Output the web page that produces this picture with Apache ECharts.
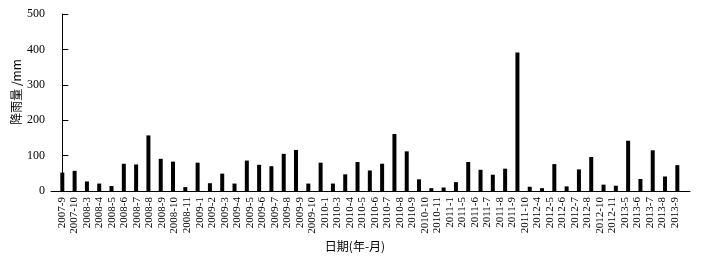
<!DOCTYPE html>
<html><head><meta charset="utf-8">
<script src="https://cdn.jsdelivr.net/npm/echarts@6/dist/echarts.min.js"></script>
<style>html,body{margin:0;padding:0;background:#fff}#c{width:705px;height:258px}</style>
</head><body><div id="c"></div>
<script>
const monthLabels = ['2007-9','2007-10','2008-3','2008-4','2008-5','2008-6','2008-7','2008-8','2008-9','2008-10','2008-11','2009-1','2009-2','2009-3','2009-4','2009-5','2009-6','2009-7','2009-8','2009-9','2009-10','2010-1','2010-3','2010-4','2010-5','2010-6','2010-7','2010-8','2010-9','2010-10','2010-11','2011-1','2011-5','2011-6','2011-7','2011-8','2011-9','2011-10','2012-4','2012-5','2012-6','2012-7','2012-8','2012-10','2012-11','2013-5','2013-6','2013-7','2013-8','2013-9'];
const barValues = [52,57,27,21,14,77,75,157,91,83,11,80,22,49,21,86,74,70,105,116,21,80,21,47,82,58,77,161,112,33,8,10,25,82,60,46,63,391,12,8,76,13,61,96,18,15,142,34,115,41,73];
const yMin = 0, yMax = 500, yStep = 100;
const yName = '降雨量 /mm';
const xName = '日期(年-月)';

const chart = echarts.init(document.getElementById('c'), null, {renderer:'canvas'});
const barData = barValues.map((v, i) => [i, v]);
const serif = '"Liberation Serif","Times New Roman",serif';
const cjk = '"Noto Sans CJK SC","Noto Sans",sans-serif';
chart.setOption({
  animation: false,
  grid: [
    {left: 51, right: 15, top: 14, bottom: 67},
    {left: 62, right: 30, top: 14, bottom: 67}
  ],
  xAxis: [
    {type: 'value', gridIndex: 0, min: -0.92, max: 51.03,
     axisLine: {show: true, onZero: false, lineStyle: {color: '#000', width: 1}},
     axisTick: {show: false}, axisLabel: {show: false}, splitLine: {show: false}},
    {type: 'category', gridIndex: 1, data: monthLabels, boundaryGap: false,
     axisLine: {show: false}, axisTick: {show: false}, splitLine: {show: false},
     axisLabel: {rotate: 90, interval: 0, margin: 6, fontFamily: serif, fontSize: 11, color: '#000'}}
  ],
  yAxis: [
    {type: 'value', gridIndex: 0, min: yMin, max: yMax, interval: yStep,
     axisLine: {show: true, lineStyle: {color: '#000', width: 1}},
     axisTick: {show: true, inside: true, length: 6, lineStyle: {color: '#000'}},
     axisLabel: {fontFamily: serif, fontSize: 12, color: '#000', margin: 6},
     splitLine: {show: false}},
    {type: 'value', gridIndex: 1, min: yMin, max: yMax, show: false}
  ],
  series: [{type: 'bar', xAxisIndex: 0, yAxisIndex: 0, data: barData, barWidth: 4,
            itemStyle: {color: '#000'}}],
  graphic: [
    {type: 'text', x: 16, y: 92, rotation: Math.PI / 2,
     style: {text: yName, font: '12px ' + cjk, fill: '#000', textAlign: 'center', textVerticalAlign: 'middle'}},
    {type: 'text', x: 355, y: 246,
     style: {text: xName, font: '12px ' + cjk, fill: '#000', textAlign: 'center', textVerticalAlign: 'middle'}}
  ]
});
</script></body></html>
